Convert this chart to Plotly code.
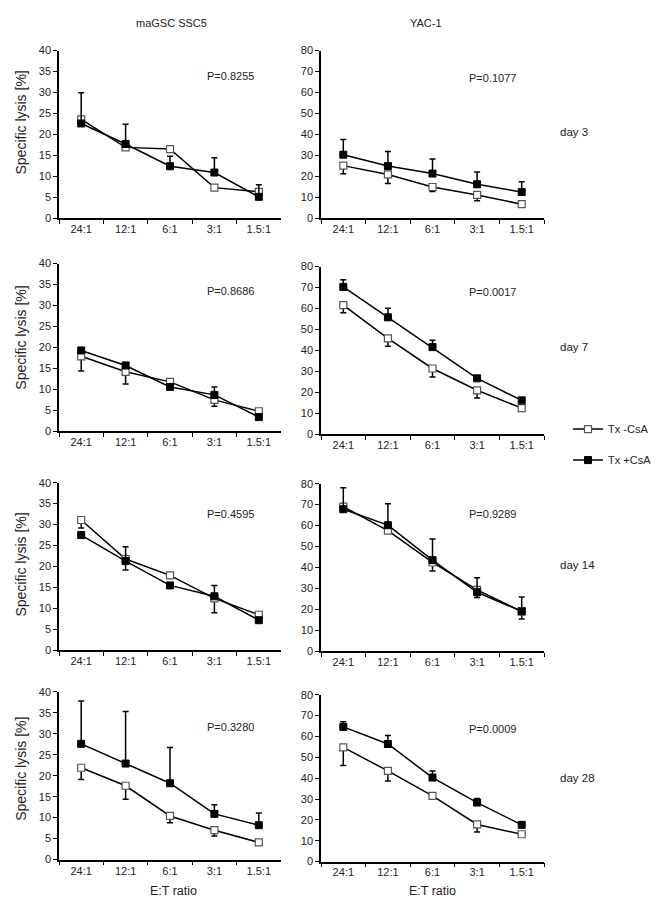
import plotly.graph_objects as go

categories = ["24:1", "12:1", "6:1", "3:1", "1.5:1"]
days = ["day 3", "day 7", "day 14", "day 28"]
panel_titles = ["maGSC SSC5", "YAC-1"]
series_names = ["Tx -CsA", "Tx +CsA"]

# maGSC SSC5 (left column)
ma_minus = [[23.6, 16.9, 16.5, 7.3, 6.3],
            [17.9, 14.2, 11.8, 7.5, 4.8],
            [31.1, 21.8, 17.9, 12.4, 8.5],
            [21.9, 17.6, 10.4, 7.0, 4.1]]
ma_minus_err = [[0.8, 0.6, 0.6, 0.4, 0.5],
                [3.5, 2.9, 0.5, 1.5, 0.4],
                [1.9, 2.6, 0.6, 3.4, 0.5],
                [2.8, 3.2, 1.6, 1.4, 0.3]]
ma_plus = [[22.6, 17.7, 12.4, 10.9, 5.1],
           [19.3, 15.7, 10.6, 8.7, 3.4],
           [27.5, 21.3, 15.5, 12.9, 7.2],
           [27.6, 22.9, 18.2, 10.9, 8.2]]
ma_plus_err = [[7.3, 4.7, 2.4, 3.5, 2.9],
               [0.6, 0.7, 0.5, 1.9, 0.4],
               [0.8, 3.4, 0.6, 2.6, 0.5],
               [10.2, 12.4, 8.5, 2.2, 2.9]]
ma_p = ["P=0.8255", "P=0.8686", "P=0.4595", "P=0.3280"]

# YAC-1 (right column)
yac_minus = [[25.1, 20.9, 14.9, 11.1, 6.7],
             [61.6, 45.8, 31.4, 21.0, 12.5],
             [69.0, 57.6, 42.4, 29.3, 19.1],
             [54.8, 43.5, 31.5, 17.8, 13.1]]
yac_minus_err = [[3.9, 4.3, 2.2, 2.8, 0.5],
                 [3.6, 3.8, 4.1, 3.7, 1.5],
                 [1.0, 1.0, 4.1, 3.6, 3.6],
                 [8.7, 4.9, 0.8, 3.6, 0.8]]
yac_plus = [[30.3, 24.9, 21.3, 16.2, 12.5],
            [70.3, 55.8, 41.6, 26.7, 16.2],
            [67.8, 60.2, 43.5, 28.2, 19.1],
            [64.6, 56.4, 40.3, 28.3, 17.6]]
yac_plus_err = [[7.2, 6.9, 6.9, 5.9, 4.9],
                [3.4, 4.3, 3.3, 0.8, 0.8],
                [10.2, 10.2, 10.1, 6.9, 6.8],
                [2.5, 4.1, 3.2, 1.9, 0.8]]
yac_p = ["P=0.1077", "P=0.0017", "P=0.9289", "P=0.0009"]

W, H = 661, 900
FONT = "Liberation Sans, Arial, sans-serif"
TXT = "#222222"

def px_x(v):
    return v / W

def px_y(v):
    return 1 - v / H

# plot area pixel boxes
col_x = [(51, 273), (313, 536)]
row_y = [[(37, 207), (37, 207)],
         [(253, 423), (256, 426)],
         [(475, 645), (476, 646)],
         [(687, 857), (690, 859)]]
p_pos = [[(222, 63), (485, 65)],
         [(222, 281), (485, 282)],
         [(222, 507), (485, 507)],
         [(222, 723), (485, 725)]]
day_y = [120, 338, 558, 774]
ytitle_y = [110, 328, 558, 765]

fig = go.Figure()
layout = dict(
    width=W, height=H, autosize=False,
    margin=dict(l=0, r=0, t=0, b=0),
    paper_bgcolor="white", plot_bgcolor="white",
    font=dict(family=FONT, size=11, color=TXT),
    showlegend=True,
)
annotations = []

for r in range(4):
    for c in range(2):
        k = r * 2 + c + 1
        xa = "x" if k == 1 else f"x{k}"
        ya = "y" if k == 1 else f"y{k}"
        xkey = "xaxis" if k == 1 else f"xaxis{k}"
        ykey = "yaxis" if k == 1 else f"yaxis{k}"
        if c == 0:
            mv, me, pv, pe, ymax, dt = ma_minus[r], ma_minus_err[r], ma_plus[r], ma_plus_err[r], 40, 5
            ptxt = ma_p[r]
        else:
            mv, me, pv, pe, ymax, dt = yac_minus[r], yac_minus_err[r], yac_plus[r], yac_plus_err[r], 80, 10
            ptxt = yac_p[r]
        first = (k == 1)
        fig.add_trace(go.Scatter(
            x=categories, y=mv, xaxis=xa, yaxis=ya, mode="lines+markers",
            name=series_names[0], legendgroup="minus", showlegend=first,
            line=dict(color="black", width=1.5),
            marker=dict(symbol="square", size=7, color="white",
                        line=dict(color="#555555", width=1.2)),
            error_y=dict(type="data", symmetric=False, array=[0] * 5, arrayminus=me,
                         color="black", thickness=1.5, width=3),
        ))
        fig.add_trace(go.Scatter(
            x=categories, y=pv, xaxis=xa, yaxis=ya, mode="lines+markers",
            name=series_names[1], legendgroup="plus", showlegend=first,
            line=dict(color="black", width=1.5),
            marker=dict(symbol="square", size=7, color="black",
                        line=dict(color="black", width=1)),
            error_y=dict(type="data", symmetric=False, array=pe, arrayminus=[0] * 5,
                         color="black", thickness=1.5, width=3),
        ))
        x0, x1 = col_x[c]
        yt, yb = row_y[r][c]
        layout[xkey] = dict(
            domain=[px_x(x0), px_x(x1)], anchor=ya, type="category",
            categoryorder="array", categoryarray=categories,
            range=[-0.5, 4.5], tickson="boundaries", ticks="outside", ticklen=4,
            tickwidth=1.2, tickcolor="black", showline=True, linecolor="black",
            linewidth=1.5, showgrid=False, zeroline=False,
            tickfont=dict(size=11, color=TXT), fixedrange=True,
        )
        layout[ykey] = dict(
            domain=[px_y(yb), px_y(yt)], anchor=xa, range=[0, ymax], dtick=dt,
            ticks="outside", ticklen=4, tickwidth=1.2, tickcolor="black",
            showline=True, linecolor="black", linewidth=1.5, showgrid=False,
            zeroline=False, tickfont=dict(size=11, color=TXT), fixedrange=True,
        )
        px_, py_ = p_pos[r][c]
        annotations.append(dict(text=ptxt, x=px_x(px_), y=px_y(py_), xref="paper", yref="paper",
                                showarrow=False, xanchor="center", yanchor="middle",
                                font=dict(size=11, color=TXT)))
    annotations.append(dict(text=days[r], x=px_x(550), y=px_y(day_y[r]), xref="paper", yref="paper",
                            showarrow=False, xanchor="left", yanchor="middle",
                            font=dict(size=11.5, color=TXT)))
    annotations.append(dict(text="Specific lysis [%]", x=px_x(13), y=px_y(ytitle_y[r]),
                            xref="paper", yref="paper", showarrow=False, textangle=-90,
                            xanchor="center", yanchor="middle",
                            font=dict(size=14, color=TXT)))

annotations.append(dict(text=panel_titles[0], x=px_x(163), y=px_y(9), xref="paper", yref="paper",
                        showarrow=False, xanchor="center", yanchor="middle",
                        font=dict(size=11, color=TXT)))
annotations.append(dict(text=panel_titles[1], x=px_x(418), y=px_y(9), xref="paper", yref="paper",
                        showarrow=False, xanchor="center", yanchor="middle",
                        font=dict(size=11, color=TXT)))
annotations.append(dict(text="E:T ratio", x=px_x(165), y=px_y(889), xref="paper", yref="paper",
                        showarrow=False, xanchor="center", yanchor="middle",
                        font=dict(size=12.5, color=TXT)))
annotations.append(dict(text="E:T ratio", x=px_x(424), y=px_y(889), xref="paper", yref="paper",
                        showarrow=False, xanchor="center", yanchor="middle",
                        font=dict(size=12.5, color=TXT)))

layout["annotations"] = annotations
layout["legend"] = dict(
    x=px_x(560), y=px_y(406), xanchor="left", yanchor="top",
    traceorder="grouped", tracegroupgap=12,
    font=dict(size=11, color=TXT), bgcolor="rgba(0,0,0,0)",
    itemclick=False, itemdoubleclick=False, itemwidth=30,
)
fig.update_layout(**layout)
fig.write_html("out.html")
